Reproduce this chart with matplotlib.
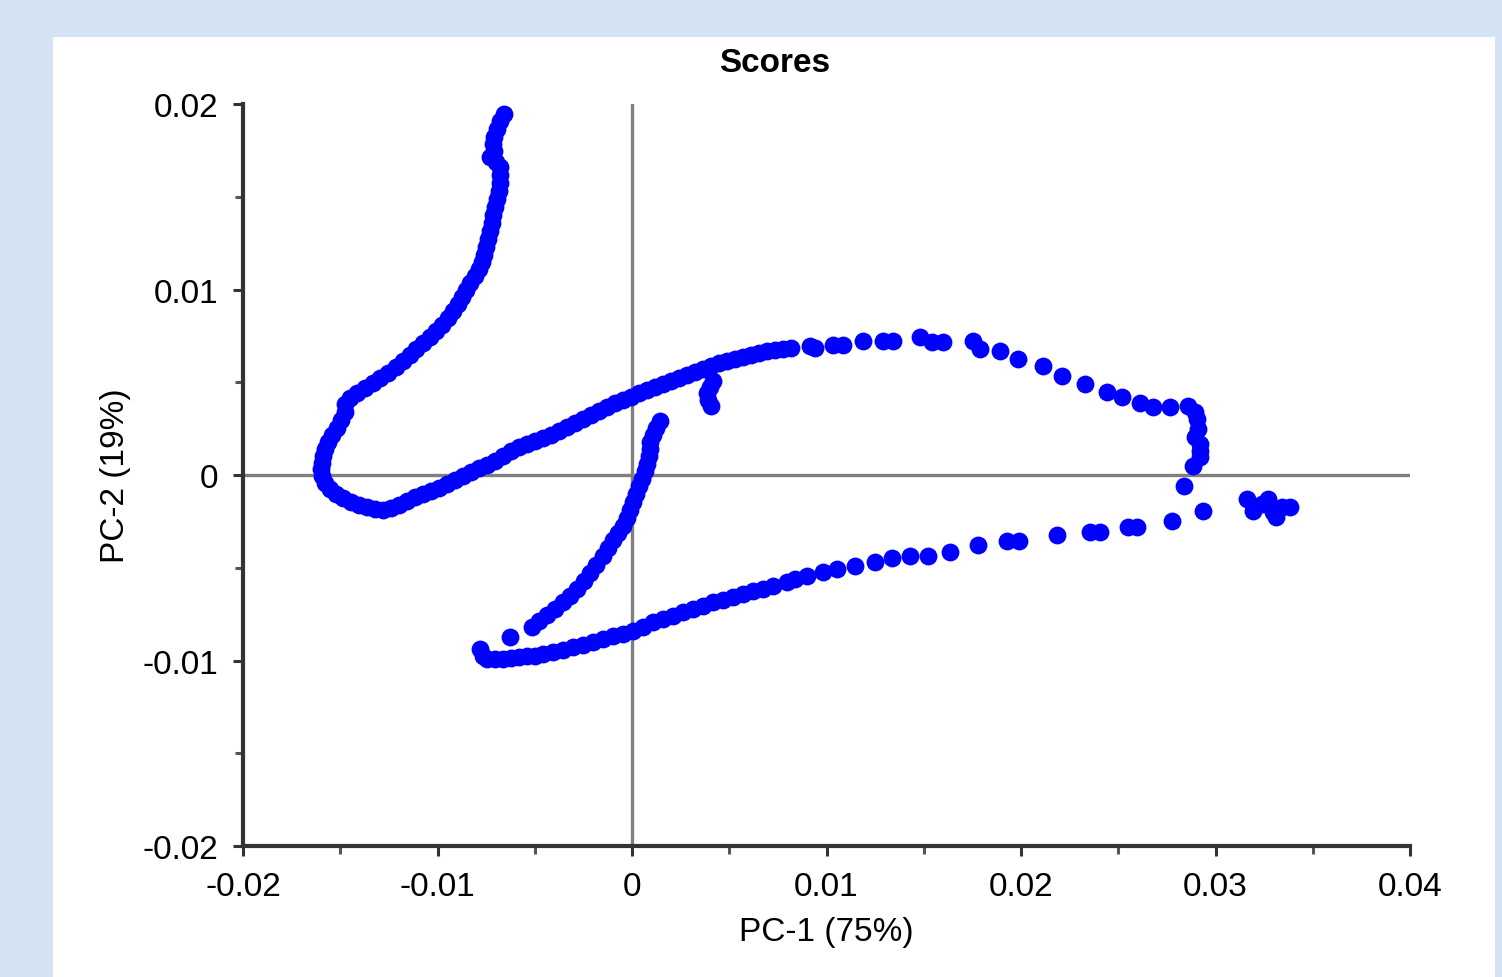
import matplotlib
matplotlib.use("Agg")
import matplotlib.pyplot as plt
from matplotlib.patches import Rectangle
from matplotlib.ticker import MultipleLocator

plt.rcParams["font.family"] = ["Liberation Sans", "DejaVu Sans"]
plt.rcParams["axes.unicode_minus"] = False

# score trajectory (PC-1, PC-2)
# top strand, coming down into the left loop
pc1_top = [-0.00658, -0.00679, -0.00694, -0.00710, -0.00715, -0.00710, -0.00730, -0.00699,
           -0.00679, -0.00679, -0.00679, -0.00684, -0.00694, -0.00704, -0.00715, -0.00720,
           -0.00730, -0.00740, -0.00751, -0.00761, -0.00771, -0.00787, -0.00807, -0.00833,
           -0.00853, -0.00874, -0.00895, -0.00920, -0.00946, -0.00977, -0.01008, -0.01038,
           -0.01074, -0.01110, -0.01141, -0.01177, -0.01213, -0.01254, -0.01296, -0.01332,
           -0.01373, -0.01414, -0.01450, -0.01475]
pc2_top = [0.01946, 0.01908, 0.01865, 0.01822, 0.01784, 0.01747, 0.01714, 0.01687,
           0.01660, 0.01617, 0.01574, 0.01531, 0.01488, 0.01445, 0.01402, 0.01359,
           0.01315, 0.01272, 0.01229, 0.01186, 0.01148, 0.01111, 0.01073, 0.01035,
           0.00997, 0.00960, 0.00922, 0.00884, 0.00846, 0.00809, 0.00776, 0.00744,
           0.00712, 0.00679, 0.00647, 0.00615, 0.00582, 0.00550, 0.00523, 0.00496,
           0.00469, 0.00442, 0.00415, 0.00383]

# left loop and the rising upper arc
pc1_loop = [-0.01475, -0.01496, -0.01517, -0.01542, -0.01563, -0.01578, -0.01589, -0.01594,
            -0.01599, -0.01594, -0.01578, -0.01553, -0.01522, -0.01486, -0.01445, -0.01404,
            -0.01362, -0.01321, -0.01280, -0.01239, -0.01198, -0.01157, -0.01116, -0.01074,
            -0.01033, -0.00992, -0.00951, -0.00910, -0.00869, -0.00828, -0.00787, -0.00746,
            -0.00704, -0.00663, -0.00622, -0.00581, -0.00540, -0.00499, -0.00458, -0.00416,
            -0.00375, -0.00334, -0.00293, -0.00252, -0.00211, -0.00170, -0.00129, -0.00087,
            -0.00046, -0.00005, 0.00036, 0.00077, 0.00118, 0.00159, 0.00201, 0.00242,
            0.00283, 0.00324, 0.00365, 0.00406, 0.00447, 0.00488, 0.00530, 0.00571,
            0.00612, 0.00653, 0.00694, 0.00735, 0.00776, 0.00818]
pc2_loop = [0.00340, 0.00297, 0.00253, 0.00216, 0.00178, 0.00140, 0.00102, 0.00065,
            0.00032, -0.00005, -0.00043, -0.00076, -0.00102, -0.00124, -0.00146, -0.00162,
            -0.00173, -0.00183, -0.00189, -0.00178, -0.00162, -0.00140, -0.00119, -0.00102,
            -0.00086, -0.00070, -0.00049, -0.00027, -0.00005, 0.00016, 0.00038, 0.00054,
            0.00076, 0.00102, 0.00129, 0.00151, 0.00167, 0.00183, 0.00200, 0.00216,
            0.00237, 0.00259, 0.00280, 0.00302, 0.00324, 0.00345, 0.00367, 0.00388,
            0.00404, 0.00421, 0.00442, 0.00458, 0.00474, 0.00491, 0.00507, 0.00523,
            0.00539, 0.00555, 0.00571, 0.00588, 0.00604, 0.00615, 0.00625, 0.00636,
            0.00647, 0.00658, 0.00669, 0.00674, 0.00679, 0.00685]

# sparse arc to the right, down the right side and the end cluster
pc1_right = [0.00915, 0.00941, 0.01033, 0.01085, 0.01188, 0.01290, 0.01342, 0.01481,
             0.01542, 0.01599, 0.01753, 0.01789, 0.01892, 0.01985, 0.02113, 0.02211,
             0.02329, 0.02442, 0.02519, 0.02612, 0.02679, 0.02766, 0.02859, 0.02895,
             0.02905, 0.02910, 0.02895, 0.02920, 0.02920, 0.02920, 0.02884, 0.02838,
             0.02936, 0.03162, 0.03193, 0.03239, 0.03270, 0.03296, 0.03311, 0.03342,
             0.03383]
pc2_right = [0.00695, 0.00685, 0.00701, 0.00701, 0.00722, 0.00722, 0.00722, 0.00744,
             0.00717, 0.00717, 0.00722, 0.00679, 0.00669, 0.00625, 0.00588, 0.00534,
             0.00491, 0.00447, 0.00421, 0.00388, 0.00367, 0.00367, 0.00372, 0.00340,
             0.00302, 0.00248, 0.00205, 0.00167, 0.00129, 0.00097, 0.00049, -0.00059,
             -0.00194, -0.00129, -0.00194, -0.00156, -0.00129, -0.00200, -0.00226, -0.00173,
             -0.00173]

# small hook under the upper arc
pc1_hook = [0.00417, 0.00401, 0.00386, 0.00391, 0.00406]
pc2_hook = [0.00507, 0.00474, 0.00442, 0.00404, 0.00372]

# lower arc running back to the left
pc1_low = [0.02776, 0.02596, 0.02550, 0.02406, 0.02355, 0.02185, 0.01990, 0.01928,
           0.01779, 0.01635, 0.01522, 0.01429, 0.01337, 0.01249, 0.01147, 0.01054,
           0.00982, 0.00900, 0.00838, 0.00797, 0.00725, 0.00674, 0.00622, 0.00571,
           0.00519, 0.00468, 0.00417, 0.00365, 0.00314, 0.00262, 0.00211, 0.00159,
           0.00108, 0.00057, 0.00005, -0.00046, -0.00098, -0.00149, -0.00201, -0.00252,
           -0.00303, -0.00355, -0.00406, -0.00458, -0.00499, -0.00540, -0.00581, -0.00622,
           -0.00663, -0.00704, -0.00746, -0.00766, -0.00782, -0.00627]
pc2_low = [-0.00248, -0.00280, -0.00280, -0.00307, -0.00307, -0.00324, -0.00356, -0.00356,
           -0.00377, -0.00415, -0.00437, -0.00437, -0.00447, -0.00469, -0.00491, -0.00507,
           -0.00523, -0.00545, -0.00561, -0.00577, -0.00598, -0.00615, -0.00625, -0.00642,
           -0.00658, -0.00674, -0.00685, -0.00706, -0.00722, -0.00739, -0.00760, -0.00776,
           -0.00793, -0.00819, -0.00841, -0.00857, -0.00868, -0.00884, -0.00900, -0.00916,
           -0.00927, -0.00943, -0.00954, -0.00965, -0.00976, -0.00976, -0.00981, -0.00987,
           -0.00992, -0.00992, -0.00992, -0.00976, -0.00938, -0.00873]

# branch climbing back up through the origin
pc1_up = [-0.00514, -0.00478, -0.00437, -0.00396, -0.00355, -0.00319, -0.00283, -0.00247,
          -0.00216, -0.00185, -0.00149, -0.00123, -0.00098, -0.00072, -0.00046, -0.00026,
          -0.00010, 0.00005, 0.00021, 0.00036, 0.00051, 0.00067, 0.00077, 0.00087,
          0.00093, 0.00093, 0.00108, 0.00123, 0.00144]
pc2_up = [-0.00819, -0.00787, -0.00755, -0.00722, -0.00685, -0.00652, -0.00615, -0.00571,
          -0.00528, -0.00485, -0.00437, -0.00394, -0.00350, -0.00313, -0.00275, -0.00232,
          -0.00189, -0.00146, -0.00102, -0.00059, -0.00022, 0.00022, 0.00059, 0.00102,
          0.00140, 0.00178, 0.00216, 0.00253, 0.00291]

pc1 = pc1_top + pc1_loop + pc1_right + pc1_hook + pc1_low + pc1_up
pc2 = pc2_top + pc2_loop + pc2_right + pc2_hook + pc2_low + pc2_up

fig = plt.figure(figsize=(15.02, 9.78), dpi=100, facecolor="#d3e3f3")
# white panel behind the chart
fig.patches.append(Rectangle((53 / 1502, 0), 1442 / 1502, 940 / 978,
                             transform=fig.transFigure, facecolor="white",
                             edgecolor="none", zorder=-10))

ax = fig.add_axes([0.1618, 0.1339, 0.7770, 0.7587])
ax.set_facecolor("none")

ax.axhline(0, color="#808080", lw=2.4, zorder=1)
ax.axvline(0, color="#808080", lw=2.4, zorder=1)
ax.scatter(pc1, pc2, s=165, color="#0000ff", linewidths=0, zorder=3)

ax.set_xlim(-0.02, 0.04)
ax.set_ylim(-0.02, 0.02)
ax.xaxis.set_major_locator(MultipleLocator(0.01))
ax.xaxis.set_minor_locator(MultipleLocator(0.005))
ax.yaxis.set_major_locator(MultipleLocator(0.01))
ax.yaxis.set_minor_locator(MultipleLocator(0.005))
ax.set_xticks([-0.02, -0.01, 0, 0.01, 0.02, 0.03, 0.04],
              ["-0.02", "-0.01", "0", "0.01", "0.02", "0.03", "0.04"])
ax.set_yticks([-0.02, -0.01, 0, 0.01, 0.02],
              ["-0.02", "-0.01", "0", "0.01", "0.02"])

for side in ["top", "right"]:
    ax.spines[side].set_visible(False)
for side in ["left", "bottom"]:
    ax.spines[side].set_color("#333333")
    ax.spines[side].set_linewidth(3)

ax.tick_params(which="major", length=7, width=2.2, color="#333333",
               labelsize=24, pad=11, labelcolor="black")
ax.tick_params(which="minor", length=6, width=2.2, color="#555555")

ax.set_xlabel("PC-1 (75%)", fontsize=24, labelpad=10)
ax.set_ylabel("PC-2 (19%)", fontsize=24, labelpad=8)
fig.text(775 / 1502, 1 - 64 / 978, "Scores", fontsize=24, fontweight="bold",
         ha="center", va="center")

fig.savefig("out.png", dpi=100, facecolor=fig.get_facecolor())
